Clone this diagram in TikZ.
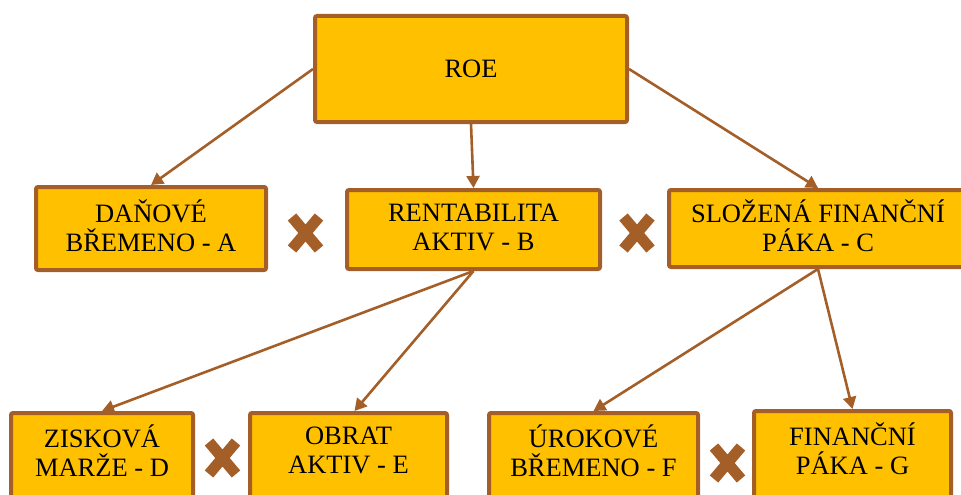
\documentclass[tikz,border=0pt]{standalone}
\usepackage{fontspec}
\setmainfont{Liberation Serif}
\usepackage{xcolor}
\usepackage{tikz}
\usetikzlibrary{arrows.meta}
\definecolor{BoxGold}{HTML}{FFC000}
\definecolor{RustBrown}{HTML}{A45E28}

\begin{document}
\begin{tikzpicture}[
  x=1pt, y=-1pt,
  ratiobox/.style={draw=RustBrown, line width=4pt, rounded corners=2pt, fill=BoxGold,
               inner sep=2pt, align=center, font=\fontsize{26.5}{29}\selectfont},
  leafbox/.style={ratiobox, minimum height=88pt, text depth=13pt},
  arrow/.style={-{Triangle[length=12pt,width=13pt]}, line width=2.6pt, draw=RustBrown},
  times/.style={line width=11pt, draw=RustBrown}
]
\useasboundingbox (0,0) rectangle (961,495);
\node[ratiobox, minimum width=312pt, minimum height=106pt] (roe) at (471,69) {ROE};
\node[ratiobox, minimum width=230pt, minimum height=83pt, text depth=5pt] (dan) at (151,228.5) {DAŇOVÉ\\BŘEMENO - A};
\node[ratiobox, minimum width=253pt, minimum height=79pt, text depth=5pt] (rent) at (473.5,229.5) {RENTABILITA\\AKTIV - B};
\node[ratiobox, minimum width=298pt, minimum height=77pt, text depth=5pt] (slozena) at (818,228.5) {SLOŽENÁ FINANČNÍ\\PÁKA - C};
\node[leafbox, minimum width=182pt] (zisk) at (102,457) {ZISKOVÁ\\MARŽE - D};
\node[leafbox, minimum width=197pt] (obrat) at (348.5,457) {OBRAT\\AKTIV - E};
\node[leafbox, minimum width=209pt] (urok) at (593.5,457) {ÚROKOVÉ\\BŘEMENO - F};
\node[leafbox, minimum width=197pt] (finpaka) at (852.5,455) {FINANČNÍ\\PÁKA - G};
\draw[arrow] (roe.west) -- (dan.north);
\draw[arrow] (roe.south) -- (rent.north);
\draw[arrow] (roe.east) -- (slozena.north);
\draw[arrow] (rent.south) -- (zisk.north);
\draw[arrow] (rent.south) -- ([xshift=6pt]obrat.north);
\draw[arrow] (slozena.south) -- (urok.north);
\draw[arrow] (slozena.south) -- (finpaka.north);
% multiplication signs between the factors
\foreach \cx/\cy in {305.5/233, 637/233, 222.5/458, 727.5/463}
  \draw[times] (\cx-13.5,\cy-16) -- (\cx+13.5,\cy+16) (\cx-13.5,\cy+16) -- (\cx+13.5,\cy-16);
\end{tikzpicture}
\end{document}
